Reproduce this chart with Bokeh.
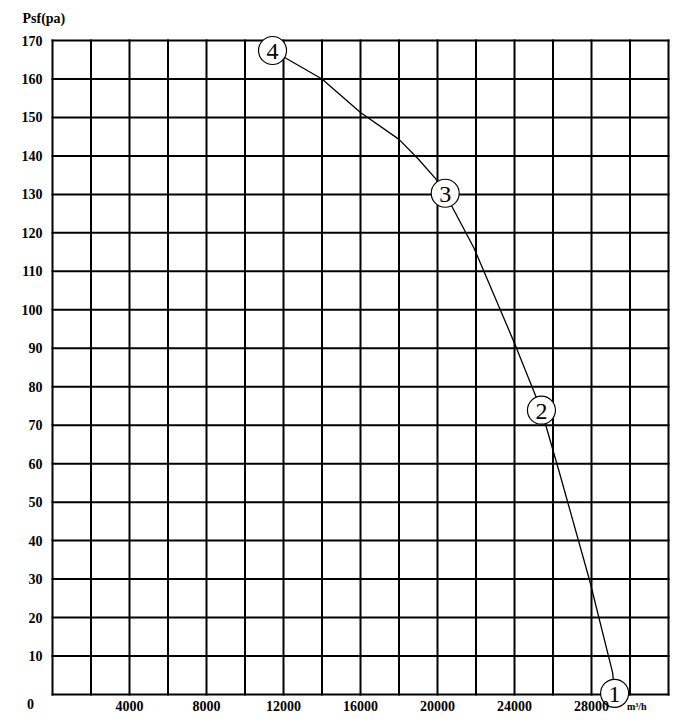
from bokeh.plotting import figure
from bokeh.models import FixedTicker, Range1d
from bokeh.embed import file_html
from bokeh.resources import INLINE

# fan curve: airflow (m3/h) vs static pressure (Pa)
flow = [11430, 14000, 16000, 18000, 19000, 19900, 20400, 20800,
        21900, 24000, 25400, 26300, 27900, 29100, 29200]
psf = [167.4, 160, 151.3, 144.3, 139.2, 134.1, 130.3, 126.4,
       116, 91.3, 73.9, 58.3, 29.7, 5.6, 0.3]

# numbered operating points
pt_flow = [29200, 25400, 20400, 11430]
pt_psf = [0.3, 73.9, 130.3, 167.4]
pt_num = ["1", "2", "3", "4"]

x_ticks = [4000, 8000, 12000, 16000, 20000, 24000, 28000]
y_ticks = list(range(10, 171, 10))
x_grid = list(range(0, 32001, 2000))
y_grid = list(range(0, 171, 10))
X_MAX, Y_MAX = 32000, 170

FONT = "Liberation Serif"

# pixel layout: grid box and the (larger) frame that holds it
GX0, GX1, GY0, GY1 = 52, 668, 40, 694
FL, FR, FT, FB = 20, 672, 8, 714
kx = X_MAX / (GX1 - GX0)
ky = Y_MAX / (GY1 - GY0)

p = figure(width=FR + 8, height=FB + 6, output_backend="svg", toolbar_location=None,
           x_range=Range1d((FL - GX0) * kx, (FR - GX0) * kx),
           y_range=Range1d(-(FB - GY1) * ky, Y_MAX + (GY0 - FT) * ky))
p.min_border_left = FL
p.min_border_right = 8
p.min_border_top = FT
p.min_border_bottom = 6
p.outline_line_color = None
p.grid.visible = False

p.xaxis.ticker = FixedTicker(ticks=x_ticks)
p.yaxis.ticker = FixedTicker(ticks=y_ticks)
for ax in (p.xaxis, p.yaxis):
    ax.axis_line_color = None
    ax.major_tick_line_color = None
    ax.minor_tick_line_color = None
    ax.major_tick_out = 0
    ax.major_tick_in = 0
    ax.minor_tick_out = 0
    ax.minor_tick_in = 0
    ax.major_label_text_font = FONT
    ax.major_label_text_font_style = "bold"
    ax.major_label_text_font_size = "14px"
    ax.major_label_text_color = "black"
p.xaxis.major_label_standoff = -14
p.yaxis.major_label_standoff = -22

# grid box
p.segment(x0=x_grid, x1=x_grid, y0=[0] * len(x_grid), y1=[Y_MAX] * len(x_grid),
          line_color="black", line_width=2, line_cap="square")
p.segment(x0=[0] * len(y_grid), x1=[X_MAX] * len(y_grid), y0=y_grid, y1=y_grid,
          line_color="black", line_width=2, line_cap="square")

p.line(flow, psf, line_color="black", line_width=1.3, line_join="round")
p.scatter(pt_flow, pt_psf, marker="circle", size=28, fill_color="white",
          line_color="black", line_width=1.2)
p.text(pt_flow, pt_psf, text=pt_num, text_align="center", text_baseline="middle",
       text_font_size="24px", text_color="black", text_font=FONT, y_offset=1)

p.text([0], [Y_MAX], text=["Psf(pa)"], x_offset=-30, y_offset=-22,
       text_font=FONT, text_font_style="bold", text_font_size="14px",
       text_baseline="middle", text_align="left")
p.text([0], [0], text=["0"], x_offset=-22, y_offset=9,
       text_font=FONT, text_font_style="bold", text_font_size="14px",
       text_baseline="middle", text_align="center")
p.text([30000], [0], text=["m³/h"], x_offset=-3, y_offset=12,
       text_font=FONT, text_font_style="bold", text_font_size="10px",
       text_baseline="middle", text_align="left")

open("out.html", "w").write(file_html(p, INLINE))
